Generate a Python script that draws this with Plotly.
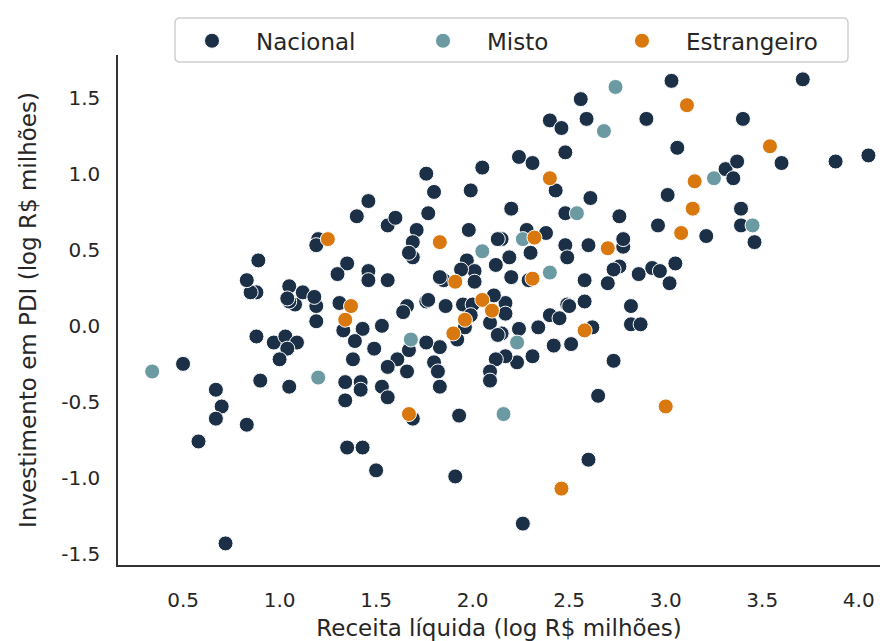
import plotly.graph_objects as go

# ---- data (log R$ milhões) ----
nacional_x = [3.03, 3.71, 2.56, 2.40, 2.46, 2.59, 2.90, 3.40, 3.06, 2.48, 2.24, 2.31, 3.60, 3.88, 4.05,
              3.31, 3.37, 3.35, 2.43, 3.01, 2.61, 2.20, 2.48, 2.76, 3.39, 3.39, 3.46, 2.96, 3.21, 2.38,
              2.28, 2.15, 2.48, 2.60, 2.78, 2.78, 2.30, 2.19, 2.49, 3.05, 2.76, 2.73, 2.93, 2.97, 2.86,
              2.20, 2.29, 2.58, 2.70, 3.02, 2.58, 2.49, 2.82, 2.17, 2.40, 2.45, 2.82, 2.87, 2.62, 2.34,
              2.24, 2.17, 2.15, 2.42, 2.51, 2.31, 2.23, 2.17, 2.73, 2.65, 2.60, 2.26, 1.86, 1.95, 2.00,
              1.99, 2.09, 2.13, 2.50, 2.12, 2.09, 2.09, 1.93, 1.83, 1.80, 1.82, 1.83, 1.92, 1.08, 1.05,
              1.19, 1.19, 1.31, 1.66, 1.64, 1.76, 0.88, 0.97, 1.03, 1.09, 1.04, 1.00, 0.90, 1.05, 1.33,
              1.43, 1.53, 1.39, 1.49, 1.38, 1.34, 1.42, 1.42, 1.34, 1.53, 1.56, 1.61, 1.56, 1.66, 1.67,
              1.76, 1.69, 0.83, 0.50, 0.67, 0.70, 0.67, 0.58, 0.72, 1.35, 1.43, 1.50, 1.91, 1.96, 2.11,
              0.88, 0.85, 1.76, 2.05, 1.80, 1.99, 1.46, 1.40, 1.56, 1.60, 1.77, 1.71, 1.69, 1.69, 1.67,
              1.98, 2.13, 1.20, 1.19, 0.89, 0.83, 1.35, 1.30, 1.46, 1.46, 1.56, 1.05, 1.04, 1.12, 1.18,
              1.77, 1.85, 1.97, 2.01, 2.01, 2.12, 1.83, 1.94]
nacional_y = [1.61, 1.62, 1.49, 1.35, 1.30, 1.36, 1.36, 1.36, 1.17, 1.14, 1.11, 1.07, 1.07, 1.08, 1.12,
              1.03, 1.08, 0.97, 0.89, 0.86, 0.84, 0.77, 0.74, 0.72, 0.77, 0.66, 0.55, 0.66, 0.59, 0.61,
              0.63, 0.57, 0.53, 0.53, 0.52, 0.57, 0.48, 0.45, 0.45, 0.41, 0.39, 0.37, 0.38, 0.36, 0.34,
              0.32, 0.30, 0.30, 0.28, 0.28, 0.16, 0.14, 0.13, 0.15, 0.07, 0.05, 0.01, 0.01, -0.01, -0.01,
              -0.02, 0.08, -0.05, -0.13, -0.12, -0.20, -0.24, -0.20, -0.23, -0.46, -0.88, -1.30, 0.13, 0.14, 0.14,
              0.07, 0.02, -0.06, 0.13, -0.22, -0.30, -0.36, -0.59, -0.14, -0.24, -0.30, -0.40, -0.09, 0.14, 0.16,
              0.13, 0.03, 0.15, 0.13, 0.09, 0.16, -0.07, -0.11, -0.07, -0.11, -0.15, -0.22, -0.36, -0.40, -0.03,
              -0.02, 0.00, -0.10, -0.15, -0.22, -0.37, -0.37, -0.42, -0.49, -0.40, -0.47, -0.22, -0.27, -0.30, -0.16,
              -0.11, -0.61, -0.65, -0.25, -0.42, -0.53, -0.61, -0.76, -1.43, -0.80, -0.80, -0.95, -0.99, -0.01, 0.20,
              0.22, 0.22, 1.00, 1.04, 0.88, 0.89, 0.82, 0.72, 0.66, 0.71, 0.74, 0.63, 0.55, 0.45, 0.48,
              0.63, 0.57, 0.57, 0.53, 0.43, 0.30, 0.41, 0.34, 0.36, 0.30, 0.30, 0.26, 0.18, 0.22, 0.19,
              0.17, 0.30, 0.43, 0.36, 0.29, 0.40, 0.32, 0.37]

misto_x = [0.34, 1.20, 1.68, 2.05, 2.26, 2.40, 2.54, 2.23, 2.16, 2.74, 2.68, 3.25, 3.45]
misto_y = [-0.30, -0.34, -0.09, 0.49, 0.57, 0.35, 0.74, -0.11, -0.58, 1.57, 1.28, 0.97, 0.66]

estrangeiro_x = [3.11, 3.54, 2.40, 3.15, 3.14, 3.08, 2.32, 2.70, 2.31, 1.25, 1.83, 1.91, 2.05, 2.10,
                 1.37, 1.34, 1.67, 1.90, 1.96, 2.58, 3.00, 2.46]
estrangeiro_y = [1.45, 1.18, 0.97, 0.95, 0.77, 0.61, 0.58, 0.51, 0.31, 0.57, 0.55, 0.29, 0.17, 0.10,
                 0.13, 0.04, -0.58, -0.05, 0.04, -0.03, -0.53, -1.07]

x_ticks = [0.5, 1.0, 1.5, 2.0, 2.5, 3.0, 3.5, 4.0]
x_ticklabels = ["0.5", "1.0", "1.5", "2.0", "2.5", "3.0", "3.5", "4.0"]
y_ticks = [-1.5, -1.0, -0.5, 0.0, 0.5, 1.0, 1.5]
y_ticklabels = ["-1.5", "-1.0", "-0.5", "0.0", "0.5", "1.0", "1.5"]

series = [
    ("Nacional", nacional_x, nacional_y, "#1b3047"),
    ("Misto", misto_x, misto_y, "#6b9aa3"),
    ("Estrangeiro", estrangeiro_x, estrangeiro_y, "#d9780e"),
]
legend_ids = ["legend", "legend2", "legend3"]
legend_left = [0.0656, 0.3688, 0.6299]  # paper x of each legend entry

FONT = "DejaVu Sans"
TXT = "#262626"

fig = go.Figure()
for (name, xs, ys, col), lid in zip(series, legend_ids):
    fig.add_trace(go.Scatter(
        x=xs, y=ys, mode="markers", name=name, legend=lid,
        marker=dict(size=15, color=col, line=dict(color="white", width=1)),
    ))

legend_style = dict(
    orientation="h", xanchor="left", y=1.07, yanchor="top",
    bgcolor="rgba(0,0,0,0)", borderwidth=0,
    font=dict(family=FONT, size=23, color=TXT), itemwidth=78,
)
layout_legends = {lid: dict(legend_style, x=lx) for lid, lx in zip(legend_ids, legend_left)}

# legend frame (rounded rectangle, paper coordinates)
x0, x1, y0, y1 = 0.0748, 0.958, 0.9863, 1.0725
rx, ry = 0.0066, 0.0098
frame = (f"M {x0+rx},{y1} L {x1-rx},{y1} Q {x1},{y1} {x1},{y1-ry} L {x1},{y0+ry} "
         f"Q {x1},{y0} {x1-rx},{y0} L {x0+rx},{y0} Q {x0},{y0} {x0},{y0+ry} "
         f"L {x0},{y1-ry} Q {x0},{y1} {x0+rx},{y1} Z")

fig.update_layout(
    width=895, height=641,
    margin=dict(l=118, r=15, t=55, b=76, autoexpand=False),
    paper_bgcolor="white", plot_bgcolor="white",
    font=dict(family=FONT, color=TXT, size=18),
    showlegend=True,
    shapes=[dict(type="path", path=frame, xref="paper", yref="paper",
                 fillcolor="white", line=dict(color="#d0d0d0", width=1.5), layer="above")],
    **layout_legends,
)
fig.update_xaxes(
    range=[0.163, 4.11], tickvals=x_ticks, ticktext=x_ticklabels,
    showgrid=False, zeroline=False, showline=True, linecolor="#333333", linewidth=1.5,
    ticks="", ticklabelstandoff=16,
    tickfont=dict(family=FONT, size=20, color=TXT),
    title=dict(text="Receita líquida (log R$ milhões)", font=dict(family=FONT, size=23, color=TXT), standoff=10),
)
fig.update_yaxes(
    range=[-1.572, 1.78], tickvals=y_ticks, ticktext=y_ticklabels,
    showgrid=False, zeroline=False, showline=True, linecolor="#333333", linewidth=1.5,
    ticks="", ticklabelstandoff=12,
    tickfont=dict(family=FONT, size=20, color=TXT),
    title=dict(text="Investimento em PDI (log R$ milhões)", font=dict(family=FONT, size=23, color=TXT), standoff=18),
)

fig.write_html("out.html", config={"displayModeBar": False},
               post_script="document.body.style.margin='0';")
